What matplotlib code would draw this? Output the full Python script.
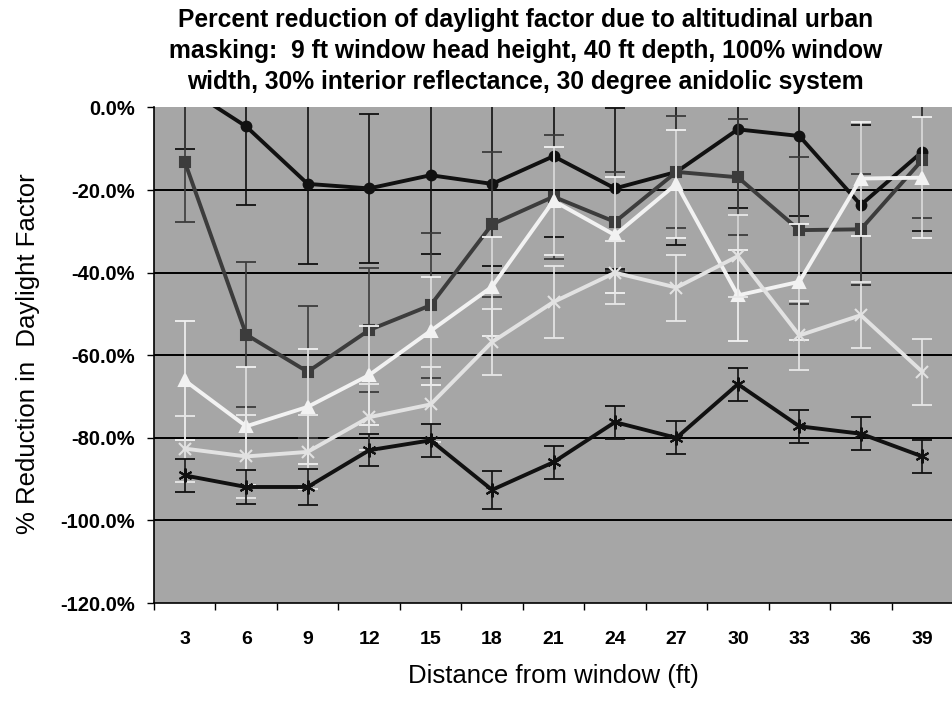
import numpy as np
import matplotlib
matplotlib.use("Agg")
import matplotlib.pyplot as plt

plt.rcParams['font.family'] = ['Liberation Sans', 'DejaVu Sans']

## Data ##############################
distance = ['3', '6', '9', '12', '15', '18', '21', '24', '27', '30', '33', '36', '39']

circle = [5.0, -4.6, -18.5, -19.6, -16.4, -18.5, -11.8, -19.6, -15.6, -5.3, -6.9, -23.6, -10.7]
circle_err = [15, 19, 19.5, 18, 19, 20, 19.5, 19.5, 17.6, 19, 19.3, 19.4, 19.2]

square = [-13.1, -55.0, -64.0, -53.9, -47.9, -28.3, -21.6, -27.7, -15.6, -16.9, -29.7, -29.5, -12.7]
square_err = [14.7, 17.6, 16, 15, 17.6, 17.6, 15, 12, 13.5, 14, 17.8, 13.5, 14]

triangle = [-66.1, -77.2, -72.5, -64.8, -54.1, -43.4, -22.6, -30.9, -18.5, -45.5, -42.2, -17.2, -17.0]
triangle_err = [14.4, 14.3, 13.9, 12, 13, 12, 13, 14, 13, 11, 14, 13.8, 14.6]

cross = [-82.6, -84.5, -83.4, -75.0, -71.9, -56.8, -47.1, -40.0, -43.6, -36.0, -55.2, -50.3, -64.0]
cross_err = [8, 10, 9, 8, 9, 8, 8.8, 7.6, 8, 10, 8.4, 8, 8]

star = [-89.1, -91.9, -91.9, -83.0, -80.6, -92.6, -85.9, -76.2, -80.0, -67.0, -77.2, -79.0, -84.5]
star_err = [4, 4, 4.4, 3.9, 4, 4.6, 4, 4, 4, 4, 4, 4, 4]

## Plot ##############################
fig = plt.figure(figsize=(9.53, 7.03), dpi=100)
ax = fig.add_axes([0.1616, 0.1422, 0.8384, 0.7049])
ax.set_facecolor('#a6a6a6')

x = np.arange(len(distance))

series = [
    (circle, circle_err, 'o', '#111111', '#111111', 7),
    (square, square_err, 's', '#3c3c3c', '#3c3c3c', 7),
    (triangle, triangle_err, '^', '#f2f2f2', '#f2f2f2', 8),
    (cross, cross_err, 'x', '#e2e2e2', '#e8e8e8', 8),
    (star, star_err, (6, 2, 0), '#111111', '#111111', 10),
]

for i, (vals, err, mk, col, ecol, ms) in enumerate(series):
    ax.errorbar(x, vals, yerr=err, fmt='none', ecolor=ecol, elinewidth=1.2,
                capsize=7, capthick=1.3, zorder=3 + i)
    ax.plot(x, vals, color=col, lw=2.8, marker=mk, ms=ms, mec=col, mfc=col,
            mew=1.5, zorder=3.5 + i)

for yv in np.arange(-100, 0, 20):
    ax.axhline(yv, color='black', lw=1.4, zorder=2)

ax.set_xlim(-0.5, len(distance) - 0.5)
ax.set_ylim(-120, 0)

ax.set_xticks(x)
ax.set_xticklabels(distance, fontsize=14, fontweight='bold')
ax.set_xticks(np.arange(-0.5, len(distance)), minor=True)
ax.tick_params(axis='x', which='major', length=0, pad=20)
ax.tick_params(axis='x', which='minor', length=5, width=1, direction='out')

yt = np.arange(-120, 1, 20)
ax.set_yticks(yt)
ax.set_yticklabels([f'{v:.1f}%' for v in yt], fontsize=14.5, fontweight='bold')
ax.tick_params(axis='y', length=5, width=1, direction='out', pad=9)

for s in ['top', 'right']:
    ax.spines[s].set_visible(False)
for s in ['left', 'bottom']:
    ax.spines[s].set_color('black')
    ax.spines[s].set_linewidth(1.2)

ax.set_xlabel('Distance from window (ft)', fontsize=18.5, labelpad=12)
fig.text(0.029, 0.497, '% Reduction in  Daylight Factor', rotation=90,
         ha='center', va='center', fontsize=18.5)

fig.text(0.5514, 0.989,
         'Percent reduction of daylight factor due to altitudinal urban\n'
         'masking:  9 ft window head height, 40 ft depth, 100% window\n'
         'width, 30% interior reflectance, 30 degree anidolic system',
         ha='center', va='top', fontsize=17.7, fontweight='bold', linespacing=1.38)

plt.savefig('out.png', dpi=100)
